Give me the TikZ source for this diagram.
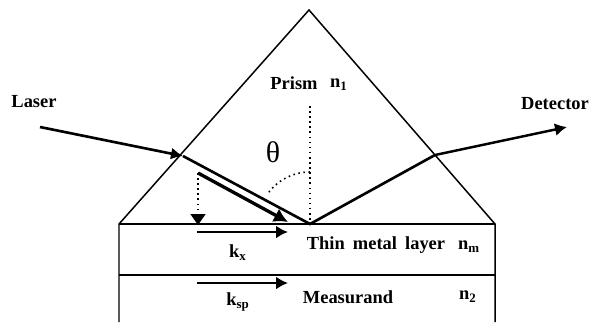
\documentclass[tikz,border=0pt]{standalone}
\usepackage{fontspec}
\setmainfont{Liberation Serif}
\usepackage{amsmath,amssymb}
\usetikzlibrary{arrows.meta,positioning}

\begin{document}
\begin{tikzpicture}[
    x=0.02cm, y=-0.02cm,
    wall/.style={line width=0.85pt},
    ray/.style={line width=1.5pt},
    arrow/.style={-{Latex[length=2.4mm,width=2.6mm]}, line width=1.4pt},
    guide/.style={dotted, line width=0.9pt},
    label/.style={font=\bfseries\fontsize{10.5}{12}\selectfont, inner sep=0pt}
]
\useasboundingbox (0,0) rectangle (590,322);
% prism and layers
\coordinate (apex) at (309,10);
\coordinate (footL) at (119,224);
\coordinate (footR) at (495,224);
\coordinate (baseL) at (119,322);
\coordinate (baseR) at (495,322);
\coordinate (midL) at (119,275);
\coordinate (midR) at (495,275);
\draw[wall] (baseL) -- (footL) -- (apex) -- (footR) -- (baseR);
\draw[wall] (footL) -- (footR);
\draw[wall] (midL) -- (midR);
% light path
\coordinate (source) at (40,127);
\coordinate (entry) at (183,156);
\coordinate (hit) at (310,224);
\coordinate (exit) at (435,155);
\coordinate (sink) at (567,127);
\draw[-{Latex[length=2.4mm,width=2.4mm]}, ray] (source) -- (entry);
\draw[ray] (entry) -- (hit) -- (exit);
\draw[arrow] (exit) -- (sink);
% angle and normal
\coordinate (normal) at (310,106);
\coordinate (waveA) at (198,173);
\coordinate (waveB) at (288,222);
\coordinate (drop) at (198,225);
\draw[guide] (normal) -- (hit);
\draw[guide] (hit) ++(0,-52) arc[start angle=-90, end angle=-146, radius=52];
\draw[-{Latex[length=2.8mm,width=3mm]}, line width=1.9pt] (waveA) -- (waveB);
\draw[guide, -{Triangle[length=2.2mm,width=3mm]}] (waveA) -- (drop);
% wave vectors
\coordinate (ksA) at (197,232);
\coordinate (ksB) at (288,232);
\coordinate (kspA) at (197,283);
\coordinate (kspB) at (288,283);
\draw[arrow] (ksA) -- (ksB);
\draw[arrow] (kspA) -- (kspB);
% labels
\node[label] (laser) at (34,102) {Laser};
\node[label] (detector) at (555,104) {Detector};
\node[label] (prism) at (294,83) {Prism};
\node[label] (n1) at (339,85) {n$_{\mathbf{1}}$};
\node[inner sep=0pt, font=\fontsize{17}{19}\selectfont] (theta) at (273,152) {θ};
\node[label] (ks) at (238,253) {k$_{\mathbf{x}}$};
\node[label] (ksp) at (238,302) {k$_{\mathbf{sp}}$};
\node[label] (metal) at (376,245) {Thin\hspace{0.44em}metal\hspace{0.44em}layer};
\node[label] (nm) at (469,247) {n$_{\mathbf{m}}$};
\node[label] (measurand) at (348,297) {Measurand};
\node[label] (n2) at (468,297) {n$_{\mathbf{2}}$};
\end{tikzpicture}
\end{document}
